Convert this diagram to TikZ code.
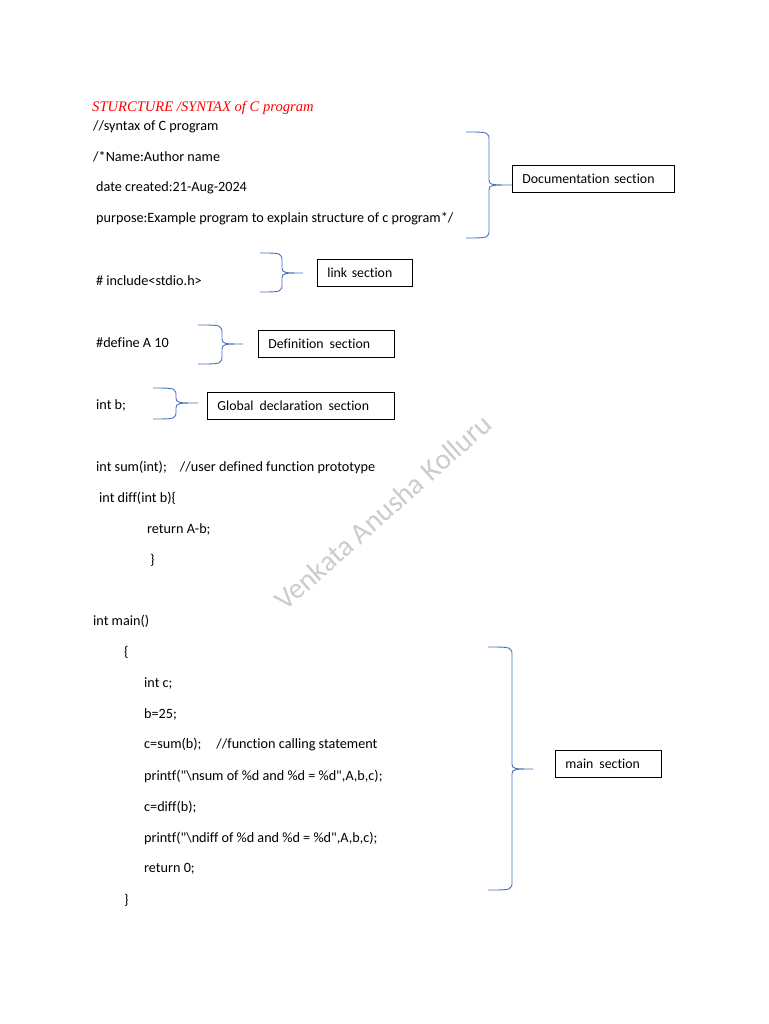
\documentclass[tikz,border=0pt]{standalone}
\usepackage{fontspec}
\setmainfont{Carlito}[Ligatures={NoCommon}]
\newfontfamily\titlefont{Liberation Serif}
\usetikzlibrary{positioning}
\definecolor{braceblue}{RGB}{68,114,196}
\definecolor{titlered}{RGB}{255,0,0}
\tikzset{
  code/.style={anchor=west,inner sep=0pt,font=\fontsize{14.2}{16}\selectfont},
  secbox/.style={draw,thick,anchor=west,minimum height=27pt,inner sep=0pt,
    align=left,font=\fontsize{13.8}{16}\selectfont},
  brace/.style={draw=braceblue,line width=0.9pt}
}
\newcommand\dsp{\hspace{6pt}}
% left end, spine, tip, top, middle, bottom
\newcommand\secbrace[6]{%
  \draw[brace] (#1,#4) .. controls (#2,#4) and (#2,#4) .. (#2,#4+9)
    -- (#2,#5-5) .. controls (#2,#5) and (#2+3,#5) .. (#3,#5)
    (#3,#5) .. controls (#2+3,#5) and (#2,#5) .. (#2,#5+5)
    -- (#2,#6-9) .. controls (#2,#6) and (#2,#6) .. (#1,#6);}
\begin{document}
\begin{tikzpicture}[x=1pt,y=-1pt]
\useasboundingbox[fill=white] (0,0) rectangle (768,1024);
% watermark
\node[rotate=41.5,text=black!20,font=\fontsize{29}{30}\selectfont] (wm) at (383,512) {Venkata Anusha Kolluru};
% title
\node[code,text=titlered,font=\titlefont\itshape\fontsize{14.6}{18}\selectfont] (title) at (92,108) {STURCTURE /SYNTAX of C program};
% documentation
\node[code] (doc1) at (93,127) {//syntax of C program};
\node[code] (doc2) at (93,157) {/*Name:Author name};
\node[code] (doc3) at (96,188) {date created:21-Aug-2024};
\node[code] (doc4) at (96,219) {purpose:Example program to explain structure of c program*/};
% link, definition, global
\node[code] (inc) at (96,281) {\# include<stdio.h>};
\node[code] (def) at (96,343) {\#define A 10};
\node[code] (glb) at (96,405) {int b;};
% functions
\node[code] (proto) at (96,467) {int sum(int);\hspace{13pt}//user defined function prototype};
\node[code] (diff1) at (99,498) {int diff(int b)\{};
\node[code] (diff2) at (147,529) {return A-b;};
\node[code] (diff3) at (150,560) {\}};
% main
\node[code] (main0) at (93,621) {int main()};
\node[code] (main1) at (124,652) {\{};
\node[code] (main2) at (144,684) {int c;};
\node[code] (main3) at (144,714) {b=25;};
\node[code] (main4) at (144,745) {c=sum(b);\hspace{15pt}//function calling statement};
\node[code] (main5) at (144,776) {printf(\textquotedbl\textbackslash nsum of \%d and \%d = \%d\textquotedbl,A,b,c);};
\node[code] (main6) at (144,807) {c=diff(b);};
\node[code] (main7) at (144,838) {printf(\textquotedbl\textbackslash ndiff of \%d and \%d = \%d\textquotedbl,A,b,c);};
\node[code] (main8) at (144,869) {return 0;};
\node[code] (main9) at (124,900) {\}};
% section boxes
\node[secbox,text width=162pt] (docsec) at (512,178.5) {\hspace*{10pt}Documentation section};
\node[secbox,text width=95pt] (linksec) at (317,272.5) {\hspace*{10pt}link section};
\node[secbox,text width=136pt] (defsec) at (258,344) {\hspace*{10pt}Definition\dsp section};
\node[secbox,text width=187pt] (glbsec) at (207,405.5) {\hspace*{10pt}Global\dsp declaration\dsp section};
\node[secbox,text width=106pt] (mainsec) at (555,764) {\hspace*{10pt}main\dsp section};
% braces
\secbrace{466}{489}{512}{132}{185}{238}
\secbrace{260}{282}{303}{253}{273}{292}
\secbrace{198}{222}{243}{325}{344}{364}
\secbrace{153}{176}{198}{388}{403}{419}
\secbrace{488}{512}{533}{647}{769}{890}
\end{tikzpicture}
\end{document}
